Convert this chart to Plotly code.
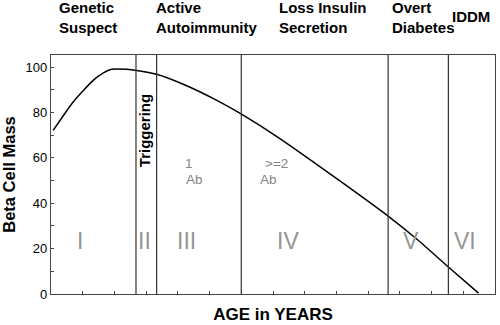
import plotly.graph_objects as go

# Curve data (age in years vs beta cell mass)
age = [0.07, 0.70, 1.33, 1.65, 1.91, 2.39, 2.70, 3.33, 4.17, 5.23, 6.02, 7.17, 9.01, 10.64, 11.54, 12.53, 13.48]
mass = [72.1, 84.6, 94.1, 97.4, 99.0, 99.0, 98.5, 96.8, 92.4, 85.3, 79.1, 68.9, 50.8, 34.2, 24.1, 11.9, 0.4]

# Stage boundaries
boundaries = [2.68, 3.33, 6.0, 10.63, 12.53]

# Stage headers
headers = ["Genetic<br>Suspect", "Active<br>Autoimmunity", "Loss Insulin<br>Secretion", "Overt<br>Diabetes"]
header_x = [0.2, 3.26, 7.13, 10.68]
iddm_label = "IDDM"
iddm_x = 12.58

# Roman numerals
numerals = ["I", "II", "III", "IV", "V", "VI"]
numeral_x = [0.91, 2.96, 4.27, 7.47, 11.35, 13.06]
numeral_y = 23.5

# Antibody notes
ab_texts = ["1", "Ab", ">=2", "Ab"]
ab_x = [4.34, 4.51, 7.10, 6.86]
ab_y = [57.4, 50.5, 57.5, 50.5]

FONT = "Liberation Sans, Arial, sans-serif"

fig = go.Figure()
fig.add_trace(go.Scatter(x=age, y=mass, mode="lines",
                         line=dict(color="black", width=1.5, shape="spline", smoothing=0.6),
                         hoverinfo="skip", showlegend=False))

for b in boundaries:
    fig.add_shape(type="line", xref="x", yref="y", x0=b, x1=b, y0=0, y1=105.3,
                  line=dict(color="#333333", width=1.2))

annotations = []
for t, x in zip(headers, header_x):
    annotations.append(dict(text="<b>%s</b>" % t, x=x, y=1.155, xref="x", yref="paper",
                            xanchor="left", yanchor="middle", align="left", showarrow=False,
                            font=dict(family=FONT, size=15, color="black")))
annotations.append(dict(text="<b>%s</b>" % iddm_label, x=iddm_x, y=1.16, xref="x", yref="paper",
                        xanchor="left", yanchor="middle", showarrow=False,
                        font=dict(family=FONT, size=15, color="black")))
annotations.append(dict(text="<b>Triggering</b>", x=2.95, y=72.0, xref="x", yref="y",
                        textangle=-90, showarrow=False, xanchor="center", yanchor="middle",
                        font=dict(family=FONT, size=15, color="black")))
for t, x in zip(numerals, numeral_x):
    annotations.append(dict(text=t, x=x, y=numeral_y, xref="x", yref="y", showarrow=False,
                            xanchor="center", yanchor="middle",
                            font=dict(family="Liberation Sans Narrow, Arial Narrow, " + FONT, size=23, color="#959595")))
for t, x, y in zip(ab_texts, ab_x, ab_y):
    annotations.append(dict(text=t, x=x, y=y, xref="x", yref="y", showarrow=False,
                            xanchor="center", yanchor="middle",
                            font=dict(family=FONT, size=13.5, color="#858585")))

fig.update_layout(
    width=500, height=325,
    margin=dict(l=51, r=5, t=55, b=31),
    paper_bgcolor="white", plot_bgcolor="white",
    annotations=annotations,
    xaxis=dict(range=[0, 14], tickmode="array", tickvals=list(range(1, 14)), ticktext=[""] * 13,
               ticks="inside", ticklen=3, tickcolor="#444", showgrid=False, zeroline=False,
               showline=True, linecolor="#444", linewidth=1.3, mirror=True,
               title=dict(text="<b>AGE in YEARS</b>", font=dict(family=FONT, size=17, color="black"), standoff=11)),
    yaxis=dict(range=[0, 105.3], tickmode="array", tickvals=list(range(0, 101, 10)),
               ticktext=[str(v) if v % 20 == 0 else "" for v in range(0, 101, 10)],
               ticks="inside", ticklen=3, tickcolor="#444", showgrid=False, zeroline=False,
               showline=True, linecolor="#444", linewidth=1.3, mirror=True,
               tickfont=dict(family=FONT, size=13, color="black"),
               title=dict(text="<b>Beta Cell Mass</b>", font=dict(family=FONT, size=16.5, color="black"), standoff=6)),
)

fig.write_html("out.html")
